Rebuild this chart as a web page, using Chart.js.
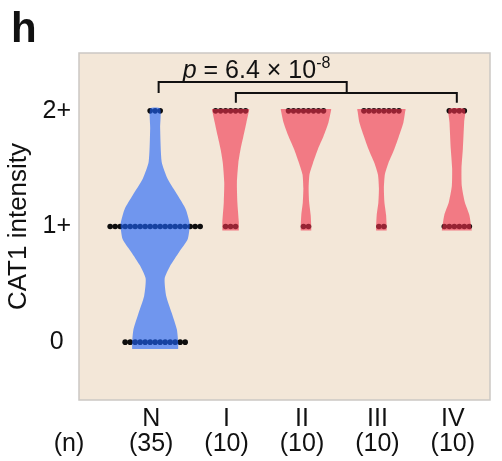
<!DOCTYPE html>
<html lang="en">
<head>
  <meta charset="UTF-8" />
  <title>CAT1 intensity by stage</title>
  <script src="https://cdn.jsdelivr.net/npm/chart.js"></script>
  <style>
    body {
      margin: 0;
      background: #ffffff;
    }
    #wrap {
      width: 502px;
      height: 461px;
    }
  </style>
</head>
<body>
  <div id="wrap"><canvas id="violinChart" width="502" height="461"></canvas></div>

  <script>
    // categories and sample sizes
    const groups = ['N', 'I', 'II', 'III', 'IV'];
    const sampleSizes = [35, 10, 10, 10, 10];

    // y axis: score values and their labels
    const yTickValues = [0, 1, 2];
    const yTickLabels = ['0', '1+', '2+'];

    // number of cases per score (0, 1+, 2+) in each group
    const dotCounts = [
      [13, 19, 3],
      [0, 3, 7],
      [0, 2, 8],
      [0, 2, 8],
      [0, 6, 4]
    ];

    // violin outlines: score levels and half widths (x axis units)
    const violinLevelsN = [-0.06, 0.0, 0.11, 0.25, 0.40, 0.55, 0.66, 0.78, 0.89, 1.02, 1.15, 1.27, 1.41, 1.56, 1.85, 2.02];
    const violinWidthN  = [0.305, 0.305, 0.288, 0.221, 0.146, 0.126, 0.199, 0.318, 0.431, 0.458, 0.405, 0.298, 0.166, 0.086, 0.066, 0.066];
    const violinLevelsI = [0.965, 1.04, 1.21, 1.38, 1.55, 1.67, 1.78, 1.90, 1.99, 2.015];
    const violinWidthI  = [0.109, 0.109, 0.090, 0.084, 0.103, 0.133, 0.170, 0.210, 0.240, 0.245];
    const violinLevelsII = [0.965, 1.0, 1.10, 1.21, 1.33, 1.45, 1.55, 1.67, 1.78, 1.90, 1.99, 2.015];
    const violinWidthII  = [0.070, 0.070, 0.062, 0.042, 0.035, 0.046, 0.093, 0.159, 0.232, 0.298, 0.328, 0.332];
    const violinLevelsIII = [0.965, 1.0, 1.10, 1.21, 1.33, 1.45, 1.55, 1.67, 1.78, 1.90, 1.99, 2.015];
    const violinWidthIII  = [0.070, 0.070, 0.062, 0.040, 0.033, 0.046, 0.093, 0.172, 0.232, 0.292, 0.314, 0.318];
    const violinLevelsIV = [0.965, 1.10, 1.21, 1.35, 1.50, 1.67, 1.90, 2.015];
    const violinWidthIV  = [0.199, 0.166, 0.106, 0.066, 0.062, 0.080, 0.097, 0.106];

    // significance brackets (x, y in axis units)
    const bracketOuterX = [0.046, 0.046, 2.54, 2.54];
    const bracketOuterY = [2.155, 2.25, 2.25, 2.155];
    const bracketInnerX = [1.07, 1.07, 4.0, 4.0];
    const bracketInnerY = [2.07, 2.155, 2.155, 2.07];

    const pValueMantissa = '6.4';
    const pValueExponent = '-8';

    const FONT = "'Liberation Sans', Arial, sans-serif";
    const dotStep = 0.0663;

    const violinLevels = [violinLevelsN, violinLevelsI, violinLevelsII, violinLevelsIII, violinLevelsIV];
    const violinWidths = [violinWidthN, violinWidthI, violinWidthII, violinWidthIII, violinWidthIV];
    const violinColors = ['rgba(31,100,252,0.62)', 'rgba(242,50,77,0.6)', 'rgba(242,50,77,0.6)', 'rgba(242,50,77,0.6)', 'rgba(242,50,77,0.6)'];

    function violinOutline(g) {
      const lv = violinLevels[g], hw = violinWidths[g];
      const pts = [];
      for (let i = 0; i < lv.length; i++) pts.push({ x: g - hw[i], y: lv[i] });
      for (let i = lv.length - 1; i >= 0; i--) pts.push({ x: g + hw[i], y: lv[i] });
      return pts;
    }

    function dotRows() {
      const pts = [];
      dotCounts.forEach((row, g) => {
        row.forEach((n, k) => {
          for (let j = 0; j < n; j++) {
            pts.push({ x: g + (j - (n - 1) / 2) * dotStep, y: yTickValues[k] });
          }
        });
      });
      return pts;
    }

    function zipXY(xs, ys) {
      return xs.map((x, i) => ({ x: x, y: ys[i] }));
    }

    const datasets = [];
    groups.forEach((g, i) => {
      datasets.push({
        label: g,
        data: violinOutline(i),
        showLine: true,
        fill: 'shape',
        backgroundColor: violinColors[i],
        borderColor: 'transparent',
        borderWidth: 0,
        pointRadius: 0,
        tension: 0.2,
        order: 1
      });
    });
    datasets.push({
      label: 'cases',
      data: dotRows(),
      backgroundColor: '#0d0d0d',
      borderWidth: 0,
      pointRadius: 2.8,
      order: 2
    });
    [zipXY(bracketOuterX, bracketOuterY), zipXY(bracketInnerX, bracketInnerY)].forEach(b => {
      datasets.push({
        label: 'bracket',
        data: b,
        showLine: true,
        fill: false,
        borderColor: '#111111',
        borderWidth: 2,
        pointRadius: 0,
        tension: 0,
        order: 0
      });
    });

    const plotBackground = {
      id: 'plotBackground',
      beforeDraw(chart) {
        const { ctx, chartArea: a } = chart;
        ctx.save();
        ctx.fillStyle = '#f3e7d8';
        ctx.fillRect(a.left, a.top, a.width, a.height);
        ctx.strokeStyle = '#cbc8c4';
        ctx.lineWidth = 1.5;
        ctx.strokeRect(a.left, a.top, a.width, a.height);
        ctx.restore();
      }
    };

    const annotations = {
      id: 'annotations',
      afterDraw(chart) {
        const { ctx, chartArea: a } = chart;
        const xs = chart.scales.x, ys = chart.scales.y;
        ctx.save();
        ctx.fillStyle = '#111111';

        // panel letter
        ctx.font = 'bold 42px ' + FONT;
        ctx.textAlign = 'left';
        ctx.textBaseline = 'alphabetic';
        ctx.fillText('h', 11, 42);

        // p value
        let x = xs.getPixelForValue(0.365);
        const y = ys.getPixelForValue(2.287);
        ctx.font = 'italic 25px ' + FONT;
        ctx.fillText('p', x, y);
        x += ctx.measureText('p').width;
        ctx.font = '25px ' + FONT;
        const body = ' = ' + pValueMantissa + ' \u00d7 10';
        ctx.fillText(body, x, y);
        x += ctx.measureText(body).width;
        ctx.font = '16px ' + FONT;
        ctx.fillText(pValueExponent, x, y - 10);

        // (n) row label
        ctx.font = '25px ' + FONT;
        ctx.textAlign = 'center';
        ctx.textBaseline = 'middle';
        ctx.fillText('(n)', a.left - 10, a.bottom + 7 + 25 + 12.5);
        ctx.restore();
      }
    };

    new Chart(document.getElementById('violinChart'), {
      type: 'scatter',
      data: { datasets: datasets },
      options: {
        responsive: false,
        animation: false,
        layout: { padding: { top: 53, right: 12, left: 0, bottom: 0 } },
        plugins: {
          legend: { display: false },
          tooltip: { enabled: false }
        },
        scales: {
          x: {
            type: 'linear',
            min: -1.01,
            max: 4.44,
            grid: { display: false, drawTicks: false },
            border: { display: false },
            afterBuildTicks: scale => { scale.ticks = groups.map((g, i) => ({ value: i })); },
            afterFit: scale => { scale.height = 61; },
            ticks: {
              autoSkip: false,
              maxRotation: 0,
              padding: 7,
              labelOffset: -4,
              color: '#111111',
              font: { family: FONT, size: 25, lineHeight: 1.0 },
              callback: (v, i) => [groups[i], '(' + sampleSizes[i] + ')']
            }
          },
          y: {
            type: 'linear',
            min: -0.5,
            max: 2.5,
            grid: { display: false, drawTicks: false },
            border: { display: false },
            afterBuildTicks: scale => { scale.ticks = yTickValues.map(v => ({ value: v })); },
            afterFit: scale => { scale.width = 79; },
            ticks: {
              crossAlign: 'center',
              padding: 8,
              color: '#111111',
              font: { family: FONT, size: 25 },
              callback: (v, i) => yTickLabels[i]
            },
            title: {
              display: true,
              text: 'CAT1 intensity',
              color: '#111111',
              padding: { top: 3, bottom: 0 },
              font: { family: FONT, size: 26 }
            }
          }
        }
      },
      plugins: [plotBackground, annotations]
    });
  </script>
</body>
</html>
